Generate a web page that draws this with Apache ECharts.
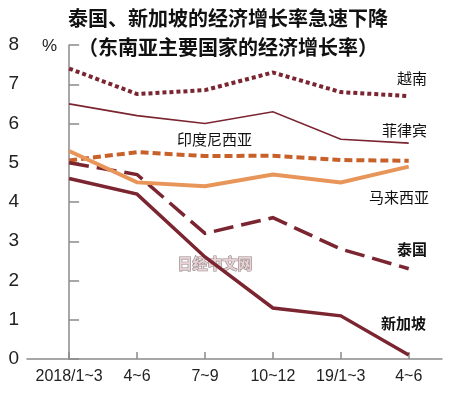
<!DOCTYPE html>
<html><head><meta charset="utf-8">
<script src="https://cdn.jsdelivr.net/npm/echarts@6/dist/echarts.min.js"></script>
<style>html,body{margin:0;padding:0;background:#fff}#c{width:450px;height:393px}</style>
</head><body><div id="c"></div>
<script>
const categories = ['2018/1~3','4~6','7~9','10~12','19/1~3','4~6'];
const yTicks = [0,1,2,3,4,5,6,7,8];
const vietnam = [7.4, 6.75, 6.85, 7.3, 6.8, 6.7];
const philippines = [6.5, 6.2, 6.0, 6.3, 5.6, 5.5];
const indonesia = [5.06, 5.27, 5.17, 5.18, 5.07, 5.05];
const malaysia = [5.3, 4.5, 4.4, 4.7, 4.5, 4.9];
const thailand = [5.0, 4.7, 3.2, 3.6, 2.8, 2.3];
const singapore = [4.6, 4.2, 2.6, 1.3, 1.1, 0.1];

const DARK = '#7b2531', ORANGE = '#c8602a', LIGHT = '#e8955a';
const NUM_FONT = "'Liberation Sans Narrow','Liberation Sans',sans-serif";
const CJK = "'Noto Sans CJK SC',sans-serif";
const pts = arr => arr.map((v,i)=>[i,v]);
function line(name, arr, color, width, type, z) {
  return {name, type:'line', data:pts(arr), symbol:'none', z:z||2,
    lineStyle:{color, width, type, cap:'butt', join:'miter'}, animation:false};
}
const chart = echarts.init(document.getElementById('c'));
const txt = (text,x,y,opt) => Object.assign({type:'text', style:Object.assign({text, x, y, fill:'#111',
  font:"15px "+CJK, textAlign:'left', textVerticalAlign:'middle'}, opt||{})});
chart.setOption({
  animation:false,
  grid:{left:27, right:8, top:45, bottom:34},
  xAxis:{type:'value', min:-0.62, max:5.49,
    splitLine:{show:false},
    axisLine:{lineStyle:{color:'#8a8a8a', width:1.5}},
    axisTick:{inside:true, length:7, lineStyle:{color:'#8a8a8a', width:1.5}, customValues:[0,1,2,3,4,5]},
    axisLabel:{customValues:[0,1,2,3,4,5], formatter:v=>categories[Math.round(v)], color:'#222',
      fontFamily:NUM_FONT, fontSize:16, margin:10}},
  yAxis:{type:'value', min:0, max:8, interval:1,
    splitLine:{show:false},
    axisLine:{show:true, lineStyle:{color:'#8a8a8a', width:1.5}},
    axisTick:{show:true, inside:true, length:10, lineStyle:{color:'#8a8a8a', width:1.5}},
    axisLabel:{color:'#222', fontFamily:NUM_FONT, fontSize:19, margin:8,
      formatter:v=>yTicks.includes(v)?String(v):''}},
  series:[
    line('越南', vietnam, DARK, 4, [4,3], 2),
    line('菲律宾', philippines, DARK, 1.6, 'solid', 2),
    line('印度尼西亚', indonesia, ORANGE, 4, [8,4], 3),
    line('泰国', thailand, DARK, 3.5, [20,8], 3),
    line('新加坡', singapore, DARK, 3.5, 'solid', 3),
    line('马来西亚', malaysia, LIGHT, 4, 'solid', 4)
  ],
  graphic:[
    txt('泰国、新加坡的经济增长率急速下降',228,18,{textAlign:'center',font:"bold 20px "+CJK}),
    txt('（东南亚主要国家的经济增长率）',228,47,{textAlign:'center',font:"bold 20px "+CJK}),
    txt('%',42,46,{font:"17px "+NUM_FONT, fill:'#222'}),
    txt('越南',397,78),
    txt('菲律宾',382,130),
    txt('印度尼西亚',177,139),
    txt('马来西亚',369,197),
    txt('泰国',397,249,{font:"bold 15px "+CJK}),
    txt('新加坡',381,323,{font:"bold 15px "+CJK}),
    txt('日经中文网',215,263,{textAlign:'center',font:"bold 15px "+CJK, fill:'#ead2d6', stroke:'#8f8787', lineWidth:1.2})
  ]
});
</script></body></html>
